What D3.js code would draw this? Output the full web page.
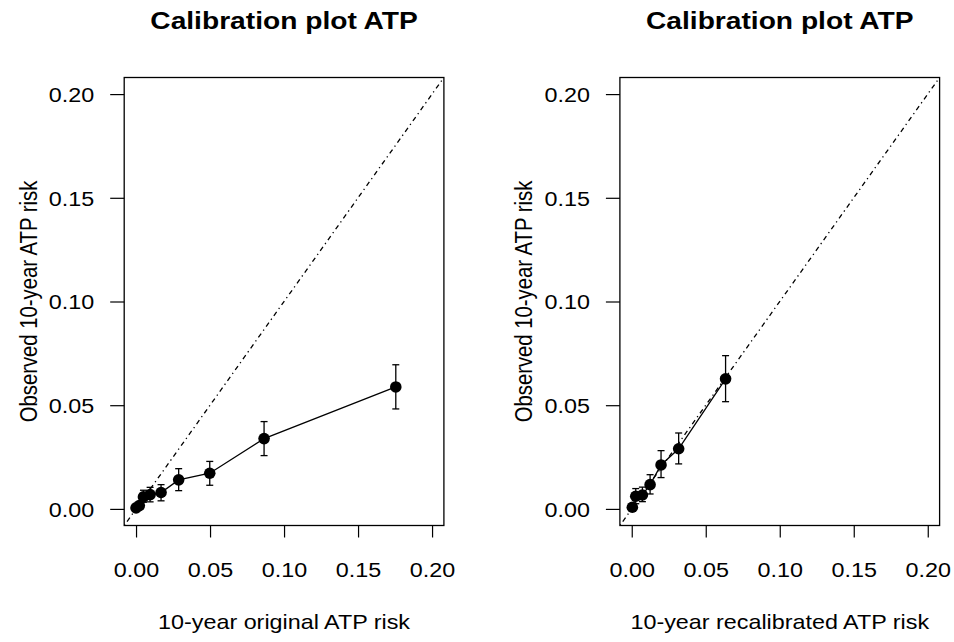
<!DOCTYPE html>
<html>
<head>
<meta charset="utf-8">
<script src="https://cdn.jsdelivr.net/npm/d3@7"></script>
<style>
  body { margin: 0; background: #fff; }
  svg { display: block; background: #fff; font-family: "Liberation Sans", Arial, Helvetica, sans-serif; }
</style>
</head>
<body>
<svg id="chart" width="954" height="642"></svg>
<script>
// left panel: original ATP risk
const origPred = [0.0000, 0.0022, 0.0050, 0.0095, 0.0169, 0.0288, 0.0498, 0.0865, 0.1755];
const origObs  = [0.0005, 0.0016, 0.0058, 0.0069, 0.0079, 0.0140, 0.0172, 0.0339, 0.0588];
const origLo   = [0.0000, 0.0005, 0.0032, 0.0034, 0.0039, 0.0088, 0.0114, 0.0257, 0.0482];
const origHi   = [0.0012, 0.0030, 0.0090, 0.0104, 0.0117, 0.0194, 0.0229, 0.0421, 0.0695];

// right panel: recalibrated ATP risk
const recalPred = [0.0004, 0.0027, 0.0072, 0.0124, 0.0198, 0.0317, 0.0634];
const recalObs  = [0.0008, 0.0061, 0.0067, 0.0117, 0.0212, 0.0290, 0.0627];
const recalLo   = [0.0000, 0.0025, 0.0035, 0.0072, 0.0151, 0.0217, 0.0517];
const recalHi   = [0.0018, 0.0098, 0.0105, 0.0165, 0.0281, 0.0366, 0.0739];

const tickValues = [0, 0.05, 0.10, 0.15, 0.20];
const tickLabels = ["0.00", "0.05", "0.10", "0.15", "0.20"];
const axisDomain = [-0.008, 0.208];

const titleText = "Calibration plot ATP";
const yTitle = "Observed 10-year ATP risk";
const xTitles = ["10-year original ATP risk", "10-year recalibrated ATP risk"];

const svg = d3.select("#chart");
const sx = 1.15;          // the source image is a bit wider than tall
const fs = 20.3;
const plotTop = 77.5, plotBottom = 525.5;

function zip(p, o, lo, hi) {
  return p.map((d, i) => ({ x: d, y: o[i], lo: lo[i], hi: hi[i] }));
}

function drawPanel(left, right, data, xTitle, id) {
  const x = d3.scaleLinear().domain(axisDomain).range([left, right]);
  const y = d3.scaleLinear().domain(axisDomain).range([plotBottom, plotTop]);
  const g = svg.append("g");
  const cx = (left + right) / 2;

  svg.append("clipPath").attr("id", "clip" + id)
    .append("rect").attr("x", left).attr("y", plotTop)
    .attr("width", right - left).attr("height", plotBottom - plotTop);

  // x axis
  const xa = g.append("g").attr("transform", `translate(0,${plotBottom})`)
    .call(d3.axisBottom(x).tickValues(tickValues).tickFormat((d, i) => tickLabels[i])
      .tickSize(12).tickSizeOuter(0));
  xa.select(".domain").remove();
  xa.selectAll("line").attr("stroke", "#000").attr("stroke-width", 1.2);
  xa.selectAll("text")
    .attr("y", 51.5).attr("dy", null)
    .attr("transform", `scale(${sx},1)`)
    .attr("font-size", fs).attr("fill", "#000");
  xa.attr("font-family", null).attr("font-size", null);

  // y axis
  const ya = g.append("g").attr("transform", `translate(${left},0)`)
    .call(d3.axisLeft(y).tickValues(tickValues).tickFormat((d, i) => tickLabels[i])
      .tickSize(14).tickSizeOuter(0));
  ya.select(".domain").remove();
  ya.selectAll("line").attr("stroke", "#000").attr("stroke-width", 1.2);
  ya.selectAll("text")
    .attr("x", -30 / sx).attr("dy", null).attr("y", 7.2)
    .attr("transform", `scale(${sx},1)`)
    .attr("font-size", fs).attr("fill", "#000");
  ya.attr("font-family", null).attr("font-size", null);

  // box
  g.append("rect").attr("x", left).attr("y", plotTop)
    .attr("width", right - left).attr("height", plotBottom - plotTop)
    .attr("fill", "none").attr("stroke", "#000").attr("stroke-width", 1.3);

  // identity line
  g.append("line")
    .attr("clip-path", `url(#clip${id})`)
    .attr("x1", x(axisDomain[0])).attr("y1", y(axisDomain[0]))
    .attr("x2", x(axisDomain[1])).attr("y2", y(axisDomain[1]))
    .attr("stroke", "#000").attr("stroke-width", 1.3)
    .attr("stroke-dasharray", "1.3,3.6,4.8,3.6");

  // calibration line
  g.append("path").datum(data)
    .attr("d", d3.line().x(d => x(d.x)).y(d => y(d.y)))
    .attr("fill", "none").attr("stroke", "#000").attr("stroke-width", 1.3);

  // error bars
  const eb = g.append("g").selectAll("g").data(data).join("g")
    .attr("stroke", "#000").attr("stroke-width", 1.3);
  eb.append("line")
    .attr("x1", d => x(d.x)).attr("x2", d => x(d.x))
    .attr("y1", d => y(d.lo)).attr("y2", d => y(d.hi));
  eb.append("line")
    .attr("x1", d => x(d.x) - 3.5).attr("x2", d => x(d.x) + 3.5)
    .attr("y1", d => y(d.lo)).attr("y2", d => y(d.lo));
  eb.append("line")
    .attr("x1", d => x(d.x) - 3.5).attr("x2", d => x(d.x) + 3.5)
    .attr("y1", d => y(d.hi)).attr("y2", d => y(d.hi));

  // points
  g.append("g").selectAll("circle").data(data).join("circle")
    .attr("cx", d => x(d.x)).attr("cy", d => y(d.y))
    .attr("r", 5.8).attr("fill", "#000");

  // titles
  g.append("text")
    .attr("transform", `translate(${cx},28.5) scale(${sx},1)`)
    .attr("text-anchor", "middle").attr("font-weight", "bold")
    .attr("font-size", 24.5).text(titleText);

  g.append("text")
    .attr("transform", `translate(${cx},629) scale(${sx},1)`)
    .attr("text-anchor", "middle").attr("font-size", fs).text(xTitle);

  g.append("text")
    .attr("transform", `translate(${left - 87.5},${(plotTop + plotBottom) / 2}) scale(${sx},1) rotate(-90)`)
    .attr("text-anchor", "middle").attr("font-size", fs).text(yTitle);
}

drawPanel(124.2, 443.9, zip(origPred, origObs, origLo, origHi), xTitles[0], 0);
drawPanel(619.9, 939.6, zip(recalPred, recalObs, recalLo, recalHi), xTitles[1], 1);
</script>
</body>
</html>
